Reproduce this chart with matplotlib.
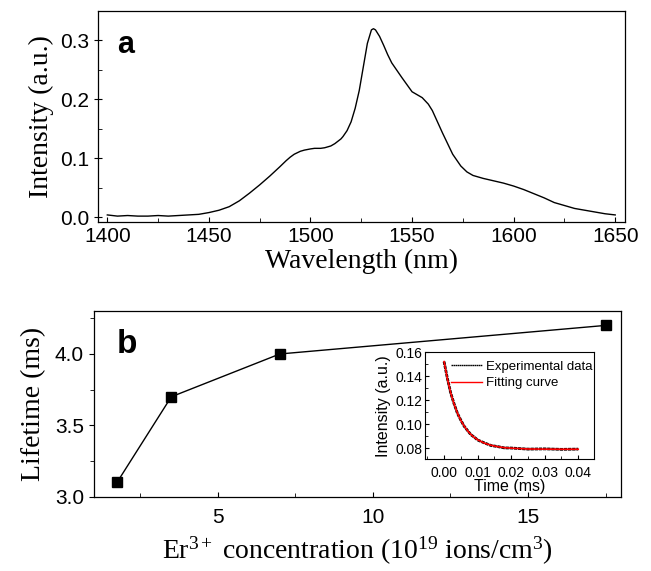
import matplotlib
matplotlib.use("Agg")
import matplotlib.pyplot as plt
from matplotlib.ticker import MultipleLocator

plt.rcParams['mathtext.fontset'] = 'custom'
plt.rcParams['mathtext.rm'] = 'Liberation Serif'
plt.rcParams['mathtext.it'] = 'Liberation Serif:italic'

# ---- Panel a: emission spectrum ----
wavelength = [1400, 1405, 1410, 1415, 1420, 1425, 1430, 1435, 1440, 1445, 1450, 1455,
              1460, 1465, 1470, 1475, 1480, 1485, 1488, 1490, 1492, 1495, 1497, 1500, 1502,
              1505, 1507, 1510, 1512, 1515, 1516, 1518, 1520, 1522, 1524, 1526, 1528, 1530,
              1531, 1532, 1534, 1536, 1538, 1540, 1545, 1550, 1553, 1555, 1558, 1560, 1565,
              1570, 1574, 1577, 1580, 1582, 1585, 1590, 1595, 1600, 1605, 1610, 1615, 1620,
              1625, 1630, 1635, 1640, 1645, 1650]
intensity = [0.004, 0.002, 0.003, 0.002, 0.002, 0.003, 0.002, 0.003, 0.004, 0.005, 0.008, 0.012,
             0.018, 0.028, 0.041, 0.055, 0.070, 0.086, 0.096, 0.102, 0.107, 0.112, 0.114, 0.116, 0.117,
             0.117, 0.118, 0.121, 0.125, 0.133, 0.137, 0.147, 0.162, 0.185, 0.215, 0.255, 0.295, 0.318,
             0.320, 0.318, 0.307, 0.292, 0.276, 0.262, 0.237, 0.213, 0.207, 0.203, 0.192, 0.181, 0.143,
             0.107, 0.087, 0.077, 0.071, 0.069, 0.066, 0.062, 0.058, 0.053, 0.047, 0.040, 0.033, 0.025,
             0.020, 0.015, 0.012, 0.009, 0.006, 0.004]

# ---- Panel b: lifetime vs concentration ----
concentration = [1.75, 3.5, 7.0, 17.5]
lifetime = [3.1, 3.7, 4.0, 4.2]

# ---- Inset: decay curve ----
time_ms = [0.0, 0.001, 0.002, 0.003, 0.004, 0.005, 0.006, 0.007, 0.008, 0.009, 0.010,
           0.012, 0.014, 0.016, 0.018, 0.020, 0.025, 0.030, 0.035, 0.040]
decay_exp = [0.152, 0.1378, 0.1256, 0.1167, 0.1088, 0.1032, 0.0981, 0.0946, 0.0911, 0.0891, 0.0867,
             0.0843, 0.0821, 0.0812, 0.0801, 0.0800, 0.0791, 0.0793, 0.0789, 0.0791]
decay_fit = [0.152, 0.1375, 0.1258, 0.1165, 0.1090, 0.1030, 0.0983, 0.0944, 0.0913, 0.0889, 0.0869,
             0.0841, 0.0823, 0.0811, 0.0803, 0.0799, 0.0792, 0.0791, 0.0790, 0.0790]

sans = 'Liberation Sans'
serif = 'Liberation Serif'

fig = plt.figure(figsize=(6.51, 5.71), dpi=100)

# Panel a
ax1 = fig.add_axes([0.1505, 0.6112, 0.8095, 0.3695])
ax1.plot(wavelength, intensity, color='black', lw=1.0)
ax1.set_xlim(1395.4, 1654.8)
ax1.set_ylim(-0.008, 0.35)
ax1.xaxis.set_major_locator(MultipleLocator(50))
ax1.xaxis.set_minor_locator(MultipleLocator(25))
ax1.yaxis.set_minor_locator(MultipleLocator(0.05))
ax1.set_yticks([0.0, 0.1, 0.2, 0.3])
ax1.set_yticklabels(['0.0', '0.1', '0.2', '0.3'])
ax1.tick_params(axis='both', which='both', direction='in', labelsize=15)
ax1.tick_params(axis='y', which='major', direction='inout', length=6)
ax1.tick_params(which='minor', length=3)
for lab in ax1.get_xticklabels() + ax1.get_yticklabels():
    lab.set_family(sans)
ax1.set_xlabel('Wavelength (nm)', family=serif, fontsize=20, labelpad=2)
ax1.set_ylabel('Intensity (a.u.)', family=serif, fontsize=20, labelpad=4)
ax1.text(0.036, 0.84, 'a', transform=ax1.transAxes, family=sans, fontsize=22,
         fontweight='bold', va='center', ha='left')
for s in ax1.spines.values():
    s.set_linewidth(0.9)

# Panel b
ax2 = fig.add_axes([0.144, 0.1301, 0.81, 0.325])
ax2.plot(concentration, lifetime, color='black', lw=1.0, marker='s', markersize=7)
ax2.set_xlim(1.0, 18.0)
ax2.set_ylim(3.0, 4.3)
ax2.xaxis.set_minor_locator(MultipleLocator(2.5))
ax2.yaxis.set_minor_locator(MultipleLocator(0.25))
ax2.set_yticks([3.0, 3.5, 4.0])
ax2.set_yticklabels(['3.0', '3.5', '4.0'])
ax2.set_xticks([5, 10, 15])
ax2.tick_params(axis='x', which='both', direction='in', labelsize=15, pad=8)
ax2.tick_params(axis='y', which='both', direction='out', labelsize=15)
ax2.tick_params(which='minor', length=3)
for lab in ax2.get_xticklabels() + ax2.get_yticklabels():
    lab.set_family(sans)
ax2.set_xlabel(r'Er$^{3+}$ concentration (10$^{19}$ ions/cm$^{3}$)', family=serif,
               fontsize=20, labelpad=6)
ax2.set_ylabel('Lifetime (ms)', family=serif, fontsize=20, labelpad=6)
ax2.text(0.044, 0.82, 'b', transform=ax2.transAxes, family=sans, fontsize=24,
         fontweight='bold', va='center', ha='left')
for s in ax2.spines.values():
    s.set_linewidth(0.9)

# Inset
ax3 = fig.add_axes([0.6533, 0.1956, 0.2591, 0.1879])
ax3.plot(time_ms, decay_exp, color='black', lw=2.0, linestyle=(0, (1.2, 0.3)),
         label='Experimental data')
ax3.plot(time_ms, decay_fit, color='red', lw=1.2, label='Fitting curve')
ax3.set_xlim(-0.0056, 0.0447)
ax3.set_ylim(0.0706, 0.16)
ax3.set_xticks([0.00, 0.01, 0.02, 0.03, 0.04])
ax3.set_xticklabels(['0.00', '0.01', '0.02', '0.03', '0.04'])
ax3.xaxis.set_minor_locator(MultipleLocator(0.005))
ax3.set_yticks([0.08, 0.10, 0.12, 0.14, 0.16])
ax3.set_yticklabels(['0.08', '0.10', '0.12', '0.14', '0.16'])
ax3.yaxis.set_minor_locator(MultipleLocator(0.01))
ax3.tick_params(axis='both', which='both', direction='in', labelsize=10)
ax3.tick_params(axis='x', which='both', pad=5)
ax3.tick_params(axis='y', which='both', pad=2)
ax3.tick_params(which='major', length=3)
ax3.tick_params(which='minor', length=2)
for lab in ax3.get_xticklabels() + ax3.get_yticklabels():
    lab.set_family(sans)
ax3.set_xlabel('Time (ms)', family=sans, fontsize=11.5, labelpad=-1)
ax3.set_ylabel('Intensity (a.u.)', family=sans, fontsize=11.5, labelpad=3)
leg = ax3.legend(loc='upper right', bbox_to_anchor=(1.0, 0.93), frameon=False,
                 prop={'family': sans, 'size': 9.5},
                 handlelength=2.4, handletextpad=0.3, borderaxespad=0.0, labelspacing=0.3,
                 borderpad=0.1)
for line in leg.get_lines():
    line.set_linewidth(1.0)
for s in ax3.spines.values():
    s.set_linewidth(0.8)

fig.savefig('out.png', dpi=100)
